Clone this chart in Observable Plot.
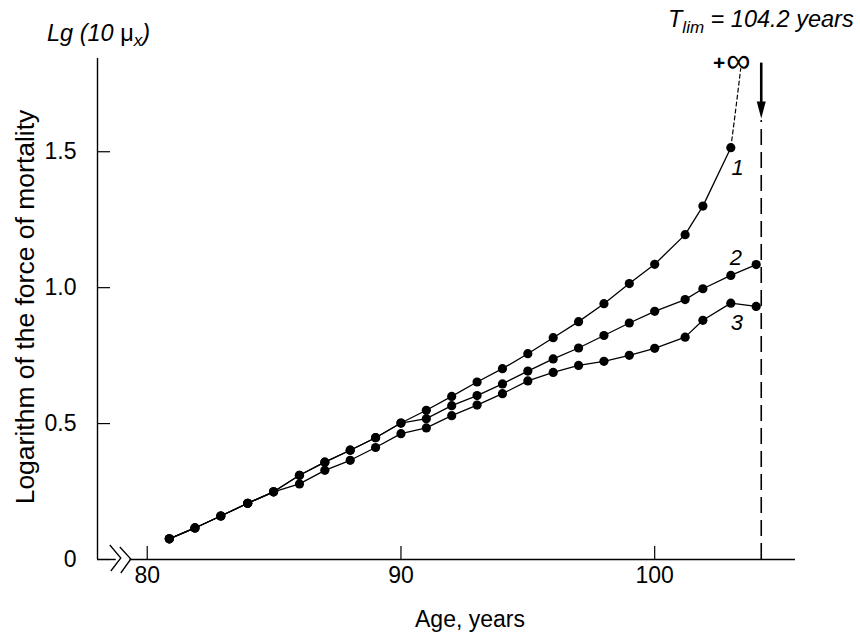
<!DOCTYPE html>
<html><head><meta charset="utf-8">
<script src="https://cdn.jsdelivr.net/npm/d3@7"></script>
<script src="https://cdn.jsdelivr.net/npm/@observablehq/plot@0.6"></script>
<style>html,body{margin:0;padding:0;background:#fff}svg{display:block}</style>
</head><body><div id="chart"></div>
<script>
// ---- data ----
const sharedAges   = [80.87, 81.88, 82.9, 83.96, 84.98];
const sharedValues = [0.076, 0.116, 0.160, 0.207, 0.249];
const branchAges   = [86, 87, 88, 89, 90];
const upperValues  = [0.310, 0.358, 0.402, 0.448, 0.502];
const lowerValues  = [0.278, 0.328, 0.365, 0.412, 0.463];
const lateAges     = [91, 92, 93, 94, 95, 96, 97, 98, 99, 100, 101.2, 101.9, 103, 104];
const curve1Late   = [0.549, 0.600, 0.653, 0.702, 0.757, 0.816, 0.875, 0.941, 1.015, 1.086, 1.195, 1.300, 1.515, null];
const curve2Late   = [0.518, 0.566, 0.603, 0.646, 0.693, 0.738, 0.778, 0.824, 0.870, 0.913, 0.956, 0.996, 1.045, 1.085];
const curve3Late   = [0.484, 0.529, 0.568, 0.610, 0.657, 0.688, 0.714, 0.729, 0.751, 0.777, 0.818, 0.880, 0.943, 0.931];
const extensionAges   = [103, 103.2, 103.39];
const extensionValues = [1.515, 1.66, 1.806];
const curveNames   = ["1", "2", "3"];
const curveLabelAges   = [103.27, 103.2, 103.24];
const curveLabelValues = [1.442, 1.11, 0.872];
const tLim = 104.2;
const xTicks = [80, 90, 100];
const xTickLabels = ["80", "90", "100"];
const yTicks = [0, 0.5, 1.0, 1.5];
const yTickLabels = ["0", "0.5", "1.0", "1.5"];
const xDomain = [78.04, 105.55];
const yDomain = [0, 1.843];
const breakAge = 78.9;

// ---- build tables ----
function series(name, branchVals, lateVals) {
  const rows = [];
  sharedAges.forEach((a, i) => rows.push({curve: name, age: a, v: sharedValues[i]}));
  branchAges.forEach((a, i) => rows.push({curve: name, age: a, v: branchVals[i]}));
  lateAges.forEach((a, i) => { if (lateVals[i] != null) rows.push({curve: name, age: a, v: lateVals[i]}); });
  return rows;
}
const rows = [
  ...series("1", upperValues, curve1Late),
  ...series("2", upperValues, curve2Late),
  ...series("3", lowerValues, curve3Late)
];
const extension = extensionAges.map((a, i) => ({age: a, v: extensionValues[i]}));
const curveLabels = curveNames.map((t, i) => ({t, age: curveLabelAges[i], v: curveLabelValues[i]}));

const arrowHead = {
  draw(ctx) { ctx.moveTo(-4.5, -17); ctx.lineTo(4.5, -17); ctx.lineTo(0, 0); ctx.closePath(); }
};

const font = "'Liberation Sans', Arial, Helvetica, sans-serif";

const chart = Plot.plot({
  width: 860, height: 636,
  marginLeft: 97, marginRight: 65, marginTop: 58, marginBottom: 77,
  x: {domain: xDomain},
  y: {domain: yDomain},
  style: {fontFamily: font, fontSize: "23px", color: "#000", background: "#fff", overflow: "visible"},
  marks: [
    // axis lines
    Plot.ruleX([xDomain[0]], {y1: yDomain[0], y2: yDomain[1], stroke: "#000", strokeWidth: 1.4}),
    Plot.ruleY([0], {x1: xDomain[0], x2: breakAge - 0.12, stroke: "#000", strokeWidth: 1.4}),
    Plot.ruleY([0], {x1: breakAge + 0.42, x2: xDomain[1], stroke: "#000", strokeWidth: 1.4}),
    // inward ticks
    Plot.axisX(xTicks, {tickSize: 13, dy: -13, fill: "none", label: null, stroke: "#000", strokeWidth: 1.2}),
    Plot.axisY(yTicks, {tickSize: 13, dx: 13, fill: "none", label: null, stroke: "#000", strokeWidth: 1.2}),
    // tick labels
    Plot.axisX(xTicks, {tickSize: 0, tickPadding: 7, tickFormat: d => xTickLabels[xTicks.indexOf(d)], label: null, fontSize: 23}),
    Plot.axisY(yTicks, {tickSize: 0, tickPadding: 21, tickFormat: d => yTickLabels[yTicks.indexOf(d)], label: null, fontSize: 23}),
    // T_lim dashed vertical line and arrow
    Plot.ruleX([tLim], {y1: 0, y2: 1.615, stroke: "#000", strokeWidth: 1.6, strokeDasharray: "16,7"}),
    Plot.ruleX([tLim], {y1: 1.826, y2: 1.66, stroke: "#000", strokeWidth: 2.6}),
    Plot.dot([tLim], {x: d => d, y: 1.622, r: 5, symbol: arrowHead, fill: "#000", stroke: "none"}),
    // curves
    Plot.line(rows, {x: "age", y: "v", z: "curve", stroke: "#000", strokeWidth: 1.3}),
    Plot.line(extension, {x: "age", y: "v", stroke: "#000", strokeWidth: 1.2, strokeDasharray: "4,3", curve: "natural"}),
    Plot.dot(rows, {x: "age", y: "v", r: 4.6, fill: "#000", stroke: "none"}),
    Plot.text(curveLabels, {x: "age", y: "v", text: "t", fontStyle: "italic", fontSize: 22, textAnchor: "middle"})
  ]
});

document.getElementById("chart").appendChild(chart);

// ---- annotations in the SVG ----
const svg = d3.select(chart);
const sx = chart.scale("x"), sy = chart.scale("y");
const g = svg.append("g").attr("font-family", font).attr("fill", "#000").attr("text-anchor", "start");

// axis break zigzag
const bx = sx.apply(breakAge), by = sy.apply(0);
const zig = [[[-9, -14], [2, -1], [-8, 12]], [[1, -12], [12, 0], [2, 14]]];
zig.forEach(pts => g.append("path")
  .attr("d", d3.line()(pts.map(([dx, dy]) => [bx + dx, by + dy])))
  .attr("fill", "none").attr("stroke", "#000").attr("stroke-width", 1.3));

// axis titles
g.append("text").attr("x", 470).attr("y", 627).attr("text-anchor", "middle")
  .attr("font-size", 23).text("Age, years");
g.append("text").attr("transform", "translate(34,307) rotate(-90)").attr("text-anchor", "middle")
  .attr("font-size", 26.5).text("Logarithm of the force of mortality");

// Lg (10 μx)
const lg = g.append("text").attr("x", 47).attr("y", 41).attr("font-size", 23.5).attr("font-style", "italic");
lg.append("tspan").text("Lg (10 ");
lg.append("tspan").attr("font-style", "normal").text("μ");
lg.append("tspan").attr("font-size", 17).attr("dy", 5).text("x");
lg.append("tspan").attr("dy", -5).text(")");

// T_lim = 104.2 years
const tl = g.append("text").attr("x", 668).attr("y", 27).attr("font-size", 23.5).attr("font-style", "italic");
tl.append("tspan").text("T");
tl.append("tspan").attr("font-size", 17).attr("dy", 6).text("lim");
tl.append("tspan").attr("dy", -6).text(" = 104.2 years");

// +∞
const inf = g.append("text").attr("x", 713).attr("y", 70).attr("font-size", 21).attr("font-weight", "bold");
inf.append("tspan").text("+");
inf.append("tspan").attr("font-weight", "normal").attr("font-size", 34).attr("dx", 1).attr("dy", 2).text("∞");
</script>
</body></html>
